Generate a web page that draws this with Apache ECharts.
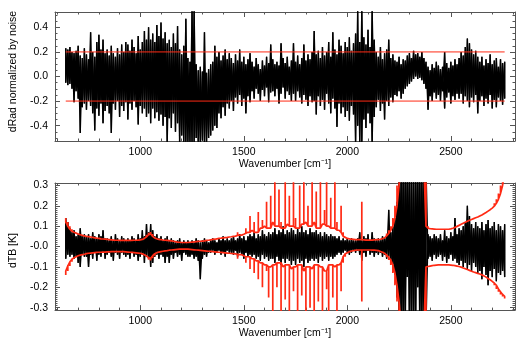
<!DOCTYPE html>
<html><head><meta charset="utf-8">
<script src="https://cdn.jsdelivr.net/npm/echarts@6/dist/echarts.min.js"></script>
<style>html,body{margin:0;padding:0;background:#fff}#c{width:524px;height:340px}</style>
</head><body><div id="c"></div>
<script>
// Wavenumber sampling grid (cm^-1): 640 .. 2760, one reading every 10 cm^-1
const wnStart = 640, wnStep = 10;

// Top panel: dRad normalized by noise, upper / lower extent of the black trace per reading
const topUp = [
.23,.22,.24,.20,.19,.21,.25,.17,.15,.23,
.18,.14,.36,.20,.16,.28,.34,.22,.30,.19,
.22,.17,.25,.19,.16,.23,.18,.26,.20,.28,
.26,.21,.30,.24,.19,.33,.22,.28,.37,.30,
.40,.30,.35,.28,.42,.33,.44,.31,.36,.27,
.30,.24,.35,.27,.41,.22,.18,.25,.47,.15,
.12,.55,.55,.10,.05,.08,.04,.36,.03,.06,
.10,.12,.25,.16,.20,.13,.17,.22,.14,.19,
.15,.11,.18,.13,.22,.12,.16,.10,.14,.19,
.12,.08,.15,.10,.06,.13,.09,.16,.11,.26,
.14,.10,.12,.09,.27,.15,.11,.16,.08,.13,
.27,.12,.17,.10,.15,.26,.13,.18,.14,.20,
.37,.18,.21,.15,.24,.17,.20,.28,.16,.36,
.22,.18,.30,.25,.19,.28,.24,.32,.21,.27,
.35,.55,.28,.55,.32,.26,.38,.24,.55,.30,
.20,.16,.24,.14,.19,.22,.30,.15,.18,.13,
.12,.16,.10,.14,.13,.17,.19,.15,.21,.18,
.19,.16,.20,.15,.12,.08,.05,.10,.07,.12,
.09,.06,.08,.20,.11,.07,.12,.09,.14,.10,
.15,.20,.17,.24,.31,.27,.22,.18,.21,.16,
.12,.16,.09,.14,.11,.18,.10,.13,.15,.08,
.14,.11,.12];
const topLo = [
-.05,-.07,-.06,-.10,-.21,-.12,-.18,-.46,-.25,-.22,
-.27,-.20,-.24,-.30,-.44,-.26,-.32,-.22,-.38,-.28,
-.24,-.30,-.46,-.22,-.27,-.20,-.33,-.24,-.28,-.21,
-.35,-.22,-.27,-.20,-.25,-.39,-.24,-.30,-.26,-.33,
-.30,-.38,-.26,-.34,-.29,-.36,-.31,-.40,-.33,-.55,
-.34,-.42,-.30,-.45,-.38,-.55,-.48,-.55,-.55,-.55,
-.55,-.55,-.55,-.50,-.55,-.55,-.52,-.55,-.55,-.50,
-.48,-.44,-.40,-.42,-.30,-.34,-.25,-.32,-.22,-.26,
-.20,-.28,-.17,-.22,-.15,-.24,-.18,-.30,-.16,-.21,
-.12,-.18,-.10,-.14,-.20,-.11,-.16,-.09,-.21,-.13,
-.12,-.16,-.10,-.22,-.14,-.09,-.18,-.12,-.15,-.20,
-.14,-.20,-.12,-.17,-.22,-.15,-.19,-.24,-.16,-.21,
-.20,-.31,-.16,-.24,-.19,-.27,-.14,-.22,-.30,-.18,
-.26,-.41,-.22,-.30,-.25,-.33,-.28,-.36,-.24,-.31,
-.55,-.40,-.55,-.55,-.35,-.42,-.30,-.38,-.55,-.33,
-.25,-.19,-.28,-.22,-.35,-.20,-.24,-.17,-.21,-.15,
-.16,-.12,-.18,-.14,-.10,-.08,-.06,-.04,-.02,.00,
-.02,-.01,-.03,-.06,-.10,-.27,-.16,-.20,-.13,-.18,
-.15,-.20,-.12,-.26,-.17,-.13,-.22,-.16,-.19,-.14,
-.18,-.14,-.22,-.16,-.20,-.25,-.17,-.21,-.15,-.30,
-.20,-.16,-.24,-.18,-.22,-.15,-.26,-.19,-.25,-.17,
-.20,-.23,-.18];
const noiseLevel = 0.2;   // red reference lines at +/- this value

// Bottom panel: dTB [K], black trace extents
const botUp = [
.14,.12,.09,.07,.08,.05,.06,.09,.05,.06,
.05,.06,.04,.07,.05,.04,.06,.05,.08,.04,
.04,.03,.05,.03,.06,.04,.03,.05,.04,.03,
.04,.03,.05,.04,.03,.06,.04,.08,.05,.11,
.07,.11,.08,.05,.06,.04,.05,.03,.04,.05,
.03,.04,.03,.02,.03,.04,.02,.03,.02,.03,
.02,.03,.02,.04,.03,.02,.03,.04,.03,.02,
.03,.04,.03,.02,.04,.03,.05,.03,.04,.03,
.04,.05,.03,.04,.06,.04,.05,.03,.05,.06,
.05,.07,.04,.06,.05,.08,.06,.05,.07,.06,
.07,.09,.06,.08,.07,.10,.06,.08,.07,.09,
.08,.06,.09,.07,.10,.07,.08,.06,.09,.07,
.07,.08,.06,.07,.05,.07,.06,.05,.06,.05,
.05,.04,.05,.03,.04,.03,.04,.03,.04,.03,
.03,.04,.07,.03,.05,.04,.06,.03,.07,.04,
.03,.04,.03,.05,.04,.06,.18,.07,.10,.14,
.22,.40,.40,.40,.40,.40,.40,.40,.40,.40,
.40,.40,.40,.40,.40,.06,.05,.04,.06,.05,
.04,.06,.03,.08,.05,.04,.07,.05,.14,.06,
.09,.08,.10,.12,.20,.15,.11,.09,.12,.10,
.09,.12,.08,.11,.13,.09,.10,.12,.08,.11,
.10,.08,.11];
const botLo = [
-.06,-.04,-.05,-.04,-.06,-.05,-.08,-.10,-.04,-.05,
-.05,-.10,-.04,-.06,-.03,-.07,-.04,-.05,-.03,-.06,
-.04,-.03,-.05,-.07,-.03,-.04,-.06,-.03,-.04,-.05,
-.04,-.06,-.03,-.05,-.04,-.07,-.05,-.04,-.08,-.05,
-.06,-.10,-.08,-.05,-.04,-.06,-.04,-.05,-.08,-.05,
-.08,-.04,-.06,-.03,-.05,-.04,-.07,-.03,-.04,-.05,
-.05,-.04,-.06,-.05,-.07,-.16,-.06,-.04,-.05,-.03,
-.03,-.02,-.04,-.03,-.02,-.04,-.03,-.05,-.02,-.03,
-.03,-.04,-.02,-.05,-.03,-.04,-.06,-.03,-.05,-.04,
-.05,-.04,-.06,-.05,-.07,-.04,-.06,-.05,-.07,-.06,
-.06,-.08,-.05,-.07,-.09,-.06,-.08,-.06,-.07,-.09,
-.07,-.09,-.06,-.08,-.07,-.10,-.06,-.08,-.07,-.06,
-.07,-.06,-.08,-.05,-.07,-.06,-.05,-.07,-.05,-.06,
-.05,-.04,-.03,-.04,-.03,-.02,-.03,-.04,-.03,-.02,
-.03,-.02,-.04,-.07,-.03,-.05,-.02,-.04,-.03,-.05,
-.03,-.04,-.03,-.05,-.04,-.06,-.05,-.08,-.10,-.14,
-.25,-.40,-.40,-.40,-.40,-.15,-.40,-.40,-.40,-.40,
-.20,-.40,-.40,-.40,-.40,-.06,-.05,-.07,-.04,-.06,
-.05,-.04,-.07,-.05,-.08,-.06,-.04,-.07,-.06,-.08,
-.09,-.07,-.10,-.08,-.11,-.09,-.12,-.08,-.10,-.13,
-.12,-.16,-.10,-.14,-.19,-.12,-.15,-.11,-.17,-.13,
-.14,-.12,-.15];

// Bottom panel: red upper and lower curves
const redUp = [
.14,.12,.10,.085,.075,.07,.066,.062,.058,.055,
.052,.05,.049,.047,.045,.043,.041,.04,.038,.037,
.036,.035,.034,.033,.032,.031,.031,.03,.03,.03,
.03,.03,.031,.031,.032,.033,.035,.04,.048,.058,
.068,.072,.062,.05,.042,.038,.035,.034,.032,.031,
.03,.029,.028,.026,.024,.022,.021,.02,.02,.021,
.022,.023,.024,.025,.026,.027,.028,.03,.031,.033,
.035,.036,.038,.04,.041,.043,.044,.045,.047,.048,
.05,.051,.055,.07,.056,.06,.065,.09,.07,.15,
.08,.12,.07,.17,.09,.13,.10,.22,.09,.25,
.12,.35,.10,.28,.12,.09,.35,.11,.25,.10,
.35,.14,.09,.30,.11,.35,.12,.20,.10,.35,
.12,.27,.09,.35,.11,.18,.35,.10,.24,.09,
.35,.12,.08,.20,.07,.05,.045,.04,.038,.036,
.035,.034,.034,.22,.034,.033,.032,.032,.033,.034,
.034,.036,.039,.043,.052,.064,.08,.10,.14,.20,
.30,.40,.40,.40,.40,.40,.40,.40,.40,.40,
.40,.40,.40,.40,.40,.10,.09,.088,.087,.086,
.085,.085,.085,.085,.085,.087,.09,.094,.099,.104,
.109,.114,.119,.124,.129,.133,.137,.141,.145,.15,
.155,.161,.167,.174,.181,.189,.198,.212,.232,.26,
.30,.36,.45];
const redDn = [
-.14,-.12,-.095,-.075,-.062,-.055,-.05,-.045,-.042,-.04,
-.038,-.035,-.033,-.032,-.031,-.03,-.029,-.028,-.028,-.027,
-.027,-.026,-.026,-.025,-.025,-.025,-.025,-.025,-.026,-.027,
-.028,-.029,-.03,-.031,-.032,-.033,-.036,-.04,-.046,-.055,
-.065,-.068,-.058,-.045,-.035,-.03,-.027,-.025,-.023,-.021,
-.02,-.018,-.017,-.016,-.015,-.014,-.013,-.013,-.013,-.014,
-.015,-.016,-.017,-.018,-.019,-.02,-.021,-.022,-.023,-.024,
-.025,-.026,-.027,-.028,-.029,-.03,-.031,-.032,-.033,-.034,
-.035,-.036,-.038,-.06,-.04,-.045,-.05,-.08,-.05,-.11,
-.06,-.13,-.07,-.16,-.08,-.20,-.09,-.12,-.25,-.10,
-.35,-.09,-.20,-.08,-.35,-.10,-.26,-.09,-.35,-.11,
-.22,-.10,-.35,-.09,-.24,-.12,-.35,-.10,-.30,-.11,
-.35,-.09,-.27,-.10,-.35,-.12,-.21,-.35,-.09,-.25,
-.10,-.35,-.09,-.22,-.08,-.05,-.035,-.03,-.025,-.022,
-.02,-.018,-.017,-.27,-.017,-.017,-.017,-.018,-.018,-.019,
-.02,-.024,-.028,-.033,-.042,-.052,-.066,-.09,-.13,-.19,
-.27,-.40,-.40,-.40,-.40,-.40,-.40,-.40,-.40,-.40,
-.40,-.40,-.40,-.40,-.40,-.10,-.098,-.096,-.094,-.092,
-.091,-.09,-.09,-.09,-.09,-.091,-.092,-.094,-.096,-.098,
-.101,-.105,-.109,-.113,-.117,-.121,-.125,-.128,-.132,-.135,
-.139,-.144,-.15,-.157,-.163,-.171,-.18,-.19,-.208,-.222,
-.235,-.245,-.255];

// Tick labels
const xMajorTicks = [1000, 1500, 2000, 2500];
const xMinorTicks = [600,700,800,900,1100,1200,1300,1400,1600,1700,1800,1900,2100,2200,2300,2400,2600,2700,2800];
const yTopTicks = [-0.4, -0.2, 0, 0.2, 0.4];
const yTopLabels = ['-0.4', '-0.2', '0.0', '0.2', '0.4'];
const yBotTicks = [-0.3, -0.2, -0.1, 0, 0.1, 0.2, 0.3];
const yBotLabels = ['-0.3', '-0.2', '-0.1', '-0.0', '0.1', '0.2', '0.3'];
const yTopMinor = [];
for (let k = -10; k <= 10; k++) yTopMinor.push(k * 0.05);
const yBotMinor = [];
for (let k = -31; k <= 31; k++) yBotMinor.push(k * 0.01);

const wnAt = i => wnStart + i * wnStep;
// vertical stroke per reading, joined by diagonals; upFirst picks which end is visited first
function zig(up, lo, upFirst) {
  const d = [];
  const n = Math.min(up.length, lo.length);
  for (let i = 0; i < n; i++) {
    const a = upFirst ? up[i] : lo[i], b = upFirst ? lo[i] : up[i];
    d.push([wnAt(i), a]); d.push([wnAt(i), b]);
  }
  return d;
}
// a curve whose spikes are drawn as thin vertical strokes from the local base
function comb(arr, sign) {
  const d = [];
  for (let i = 0; i < arr.length; i++) {
    const nb = [arr[i], arr[Math.max(0, i - 1)], arr[Math.min(arr.length - 1, i + 1)]];
    const base = sign > 0 ? Math.min.apply(null, nb) : Math.max.apply(null, nb);
    d.push([wnAt(i), base]); d.push([wnAt(i), arr[i]]); d.push([wnAt(i), base]);
  }
  return d;
}
const lastWn = wnAt(topUp.length - 1);

const FONT = 'Liberation Sans, Arial, Helvetica, sans-serif';
const FRAME = '#555';
const txt = { color: '#000', fontSize: 10.5, fontFamily: FONT };
const X_MIN = 588, X_MAX = 2810;

function labelFor(ticks, labels) {
  return v => { const k = ticks.findIndex(t => Math.abs(t - v) < 1e-9); return k >= 0 ? labels[k] : ''; };
}

function xAxes(gi) {
  const base = { type: 'value', gridIndex: gi, min: X_MIN, max: X_MAX, splitLine: { show: false } };
  const line = { show: true, onZero: false, lineStyle: { color: FRAME, width: 1 } };
  const noLine = { show: false, onZero: false };
  const major = { show: true, inside: true, length: 5, lineStyle: { color: FRAME }, customValues: xMajorTicks };
  const minor = { show: true, inside: true, length: 2.5, lineStyle: { color: FRAME }, customValues: xMinorTicks };
  return [
    Object.assign({}, base, { position: 'bottom', axisLine: line, axisTick: major,
      axisLabel: Object.assign({ show: true, margin: 6, customValues: xMajorTicks, formatter: v => String(v) }, txt),
      name: 'Wavenumber [cm\u207B\u00B9]', nameLocation: 'middle', nameGap: 16, nameTextStyle: txt }),
    Object.assign({}, base, { position: 'bottom', axisLine: noLine, axisTick: minor, axisLabel: { show: false } }),
    Object.assign({}, base, { position: 'top', axisLine: line, axisTick: major, axisLabel: { show: false } }),
    Object.assign({}, base, { position: 'top', axisLine: noLine, axisTick: minor, axisLabel: { show: false } })
  ];
}
function yAxes(gi, lim, ticks, labels, minorTicks, name, pad) {
  const base = { type: 'value', gridIndex: gi, min: -lim, max: lim, splitLine: { show: false } };
  const line = { show: true, onZero: false, lineStyle: { color: FRAME, width: 1 } };
  const noLine = { show: false, onZero: false };
  const major = { show: true, inside: true, length: 5, lineStyle: { color: FRAME }, customValues: ticks };
  const minor = { show: true, inside: true, length: 2.5, lineStyle: { color: FRAME }, customValues: minorTicks };
  return [
    Object.assign({}, base, { position: 'left', axisLine: line, axisTick: major,
      axisLabel: Object.assign({ show: true, margin: 7, customValues: ticks, formatter: labelFor(ticks, labels) }, txt),
      name: name, nameLocation: 'middle', nameGap: 23, nameTextStyle: Object.assign({ padding: pad }, txt) }),
    Object.assign({}, base, { position: 'left', axisLine: noLine, axisTick: minor, axisLabel: { show: false } }),
    Object.assign({}, base, { position: 'right', axisLine: line, axisTick: major, axisLabel: { show: false } }),
    Object.assign({}, base, { position: 'right', axisLine: noLine, axisTick: minor, axisLabel: { show: false } })
  ];
}

const lineBase = { type: 'line', symbol: 'none', showSymbol: false, silent: true, animation: false, smooth: false };
const RED = '#ff2a14';
const BLACK = { color: '#000', width: 1.3 };

const option = {
  animation: false,
  backgroundColor: '#fff',
  grid: [
    { left: 48, top: 12, width: 467, height: 129 },
    { left: 48, top: 183, width: 467, height: 128 }
  ],
  xAxis: xAxes(0).concat(xAxes(1)),
  yAxis: yAxes(0, 0.525, yTopTicks, yTopLabels, yTopMinor, 'dRad normalized by noise', [0, 0, 0, 10])
    .concat(yAxes(1, 0.312, yBotTicks, yBotLabels, yBotMinor, 'dTB [K]', [0, 8, 0, 0])),
  series: [
    Object.assign({}, lineBase, { xAxisIndex: 0, yAxisIndex: 0, data: zig(topUp, topLo, true), lineStyle: BLACK, z: 2 }),
    Object.assign({}, lineBase, { xAxisIndex: 0, yAxisIndex: 0, data: zig(topUp, topLo, false), lineStyle: BLACK, z: 2 }),
    Object.assign({}, lineBase, { xAxisIndex: 0, yAxisIndex: 0, data: [[wnStart, noiseLevel], [lastWn, noiseLevel]], lineStyle: { color: RED, width: 1 }, z: 3 }),
    Object.assign({}, lineBase, { xAxisIndex: 0, yAxisIndex: 0, data: [[wnStart, -noiseLevel], [lastWn, -noiseLevel]], lineStyle: { color: RED, width: 1 }, z: 3 }),
    Object.assign({}, lineBase, { xAxisIndex: 4, yAxisIndex: 4, data: zig(botUp, botLo, true), lineStyle: BLACK, z: 2 }),
    Object.assign({}, lineBase, { xAxisIndex: 4, yAxisIndex: 4, data: zig(botUp, botLo, false), lineStyle: BLACK, z: 2 }),
    Object.assign({}, lineBase, { xAxisIndex: 4, yAxisIndex: 4, data: comb(redUp, 1), lineStyle: { color: RED, width: 1.7 }, z: 3 }),
    Object.assign({}, lineBase, { xAxisIndex: 4, yAxisIndex: 4, data: comb(redDn, -1), lineStyle: { color: RED, width: 1.7 }, z: 3 })
  ]
};
const chart = echarts.init(document.getElementById('c'), null, { renderer: 'canvas' });
chart.setOption(option);
</script>
</body></html>
